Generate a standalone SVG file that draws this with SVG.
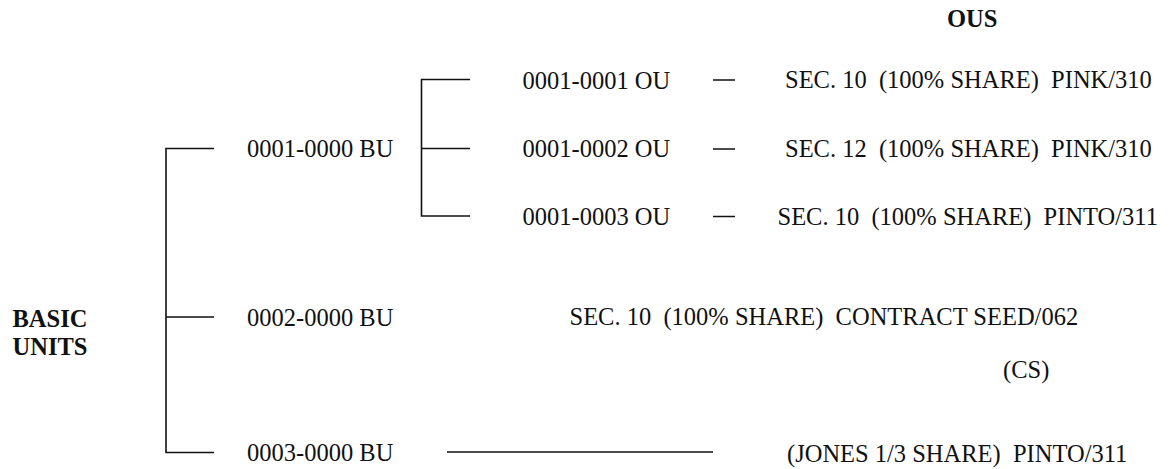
<svg xmlns="http://www.w3.org/2000/svg" width="1169" height="469" viewBox="0 0 1169 469">
<style>
text{font-family:"Liberation Serif","Times New Roman",serif;font-size:24.5px;fill:#111;white-space:pre}
.b{font-weight:bold}
.c{stroke:#111;stroke-width:1.6;fill:none}
</style>
<rect width="1169" height="469" fill="#fff"/>
<g id="connectors">
<path class="c" d="M214,148.5 H166 V452.5 H214 M166,317 H214"/>
<path class="c" d="M470,79.5 H421.5 V216 H470 M421.5,148.5 H470"/>
<path class="c" d="M713,80 H735 M713,149 H735 M713,216.5 H735"/>
<path class="c" d="M447,452 H713"/>
</g>
<g id="header"><text class="b" x="947" y="27">OUS</text></g>
<g id="basic-units"><text class="b" x="12.5" y="327">BASIC</text><text class="b" x="12.5" y="355">UNITS</text></g>
<g id="bu1"><text x="247" y="157">0001-0000 BU</text></g>
<g id="bu2"><text x="247" y="325.5">0002-0000 BU</text></g>
<g id="bu3"><text x="247" y="461">0003-0000 BU</text></g>
<g id="ou1"><text x="522.5" y="88.5">0001-0001 OU</text></g>
<g id="ou2"><text x="522.5" y="157">0001-0002 OU</text></g>
<g id="ou3"><text x="522.5" y="225">0001-0003 OU</text></g>
<g id="ou1-desc"><text x="785" y="88">SEC. 10  (100% SHARE)  PINK/310</text></g>
<g id="ou2-desc"><text x="785" y="157">SEC. 12  (100% SHARE)  PINK/310</text></g>
<g id="ou3-desc"><text x="777.5" y="225">SEC. 10  (100% SHARE)  PINTO/311</text></g>
<g id="bu2-desc"><text x="569.5" y="325">SEC. 10  (100% SHARE)  CONTRACT SEED/062</text><text x="1003" y="378">(CS)</text></g>
<g id="bu3-desc"><text x="787" y="462">(JONES 1/3 SHARE)  PINTO/311</text></g>
</svg>
